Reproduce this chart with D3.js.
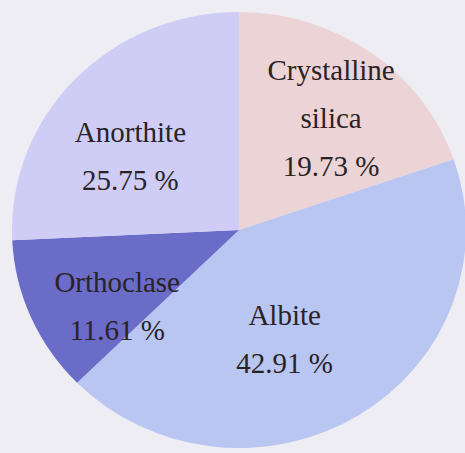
<!DOCTYPE html>
<html>
<head>
<meta charset="utf-8">
<script src="https://cdn.jsdelivr.net/npm/d3@7"></script>
<style>
  html, body { margin: 0; padding: 0; background: #ededf3; }
  svg { display: block; }
  .slice-label { font-family: "Liberation Serif", "Times New Roman", Times, "DejaVu Serif", serif; }
</style>
</head>
<body>
<svg id="chart" width="465" height="453"></svg>
<script>
// Mineral composition (percent), clockwise from 12 o'clock
const minerals = ["Crystalline silica", "Albite", "Orthoclase", "Anorthite"];
const shares = [19.73, 42.91, 11.61, 25.75];
const labelLines = [["Crystalline", "silica"], ["Albite"], ["Orthoclase"], ["Anorthite"]];

// Styling and layout
const sliceColors = ["#ecd3d6", "#b9c6f1", "#6b6bc8", "#cfcdf6"];
const cx = 239, cy = 230, rx = 227, ry = 218;
const labelRadius = 0.6 * rx;
const lineGap = 48;
const labelNudge = [[13, 4], [-26, 8], [3, 34], [-10, 26]];

const svg = d3.select("#chart");

const pie = d3.pie().sort(null).value(d => d.value);
const rows = minerals.map((m, i) => ({ name: m, value: shares[i], lines: labelLines[i], color: sliceColors[i] }));
const arcs = pie(rows);

const arc = d3.arc().innerRadius(0).outerRadius(rx);
const labelArc = d3.arc().innerRadius(labelRadius).outerRadius(labelRadius);

const g = svg.append("g")
  .attr("transform", `translate(${cx},${cy}) scale(1,${ry / rx})`);

g.selectAll("path")
  .data(arcs)
  .join("path")
  .attr("d", arc)
  .attr("fill", d => d.data.color);

const labels = svg.append("g")
  .attr("class", "slice-label")
  .attr("font-size", 29)
  .attr("fill", "#2a2326")
  .attr("text-anchor", "middle");

arcs.forEach((d, i) => {
  const [lx, ly] = labelArc.centroid(d);
  const x = cx + lx + labelNudge[i][0];
  const y = cy + ly * (ry / rx) + labelNudge[i][1];
  const lines = d.data.lines.concat([d3.format(".2f")(d.data.value) + " %"]);
  const y0 = y - (lines.length - 1) * lineGap / 2;
  const t = labels.append("text");
  lines.forEach((s, k) => {
    t.append("tspan").attr("x", x).attr("y", y0 + k * lineGap).text(s);
  });
});
</script>
</body>
</html>
